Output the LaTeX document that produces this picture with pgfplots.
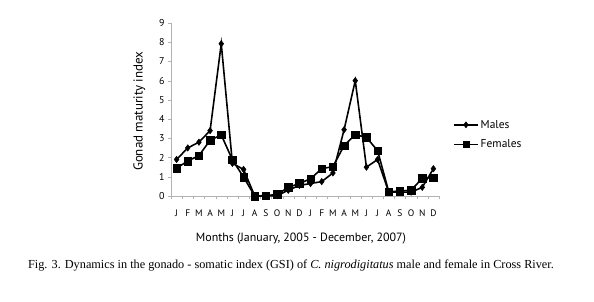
\documentclass[border=0pt]{standalone}
\usepackage{fontspec}
\setmainfont{Liberation Serif}
\newfontfamily\myriad{PT Sans}
\usepackage{pgfplots}
\pgfplotsset{compat=1.18}
\begin{document}
\begin{tikzpicture}[x=1bp,y=1bp]
\path[use as bounding box] (0,0) rectangle (594,301);
\begin{axis}[
  at={(171bp,105bp)}, anchor=south west,
  scale only axis, width=268bp, height=173bp,
  xmin=0.5, xmax=24.5, ymin=0, ymax=9,
  axis x line*=bottom, axis y line*=left,
  axis line style={gray!60, -},
  xtick={1,...,24},
  xticklabels={J,F,M,A,M,J,J,A,S,O,N,D,J,F,M,A,M,J,J,A,S,O,N,D},
  minor xtick={0.5,1.5,...,24.5},
  major x tick style={draw=none},
  minor tick length=3bp,
  major tick length=3bp,
  tick align=outside,
  tick style={gray!60},
  ytick={0,...,9},
  /pgf/number format/assume math mode=true,
  yticklabel style={font=\myriad\fontsize{10}{11}\selectfont},
  xticklabel style={font=\myriad\fontsize{9.5}{10}\selectfont, yshift=-7bp},
  ylabel={Gonad maturity index},
  every axis y label/.style={at={(axis description cs:-0.118,0.49)}, rotate=90, anchor=center,
     font=\myriad\fontsize{13}{15}\selectfont},
  xlabel={Months (January, 2005 - December, 2007)},
  every axis x label/.style={at={(axis description cs:0.485,-0.245)}, anchor=center,
     font=\myriad\fontsize{12}{14}\selectfont},
  legend style={at={(1.052,0.355)}, anchor=west, draw=none, fill=none,
    font=\myriad\fontsize{11.5}{13}\selectfont, row sep=6bp, inner sep=0pt},
  legend cell align=left,
  legend image code/.code={\draw[mark repeat=2,mark phase=2] plot coordinates {(0bp,0bp) (12bp,0bp) (24bp,0bp)};},
  legend image post style={mark size=3bp},
  clip=false,
]
\addplot[black, line width=1.6pt, mark=diamond*, mark size=3.2bp, mark options={solid, line width=0.5pt}] coordinates {
(1,1.9)(2,2.5)(3,2.8)(4,3.4)(5,7.92)(6,1.7)(7,1.38)(8,0.0)(9,0.0)(10,0.02)(11,0.3)(12,0.55)
(13,0.65)(14,0.75)(15,1.2)(16,3.45)(17,6.0)(18,1.5)(19,1.9)(20,0.2)(21,0.2)(22,0.2)(23,0.45)(24,1.42)};
\addlegendentry{Males}
\addplot[black, line width=1.6pt, mark=square*, mark size=3.8bp, mark options={solid, line width=0.5pt}] coordinates {
(1,1.45)(2,1.82)(3,2.1)(4,2.9)(5,3.18)(6,1.88)(7,0.98)(8,0.0)(9,0.02)(10,0.08)(11,0.45)(12,0.65)
(13,0.9)(14,1.42)(15,1.53)(16,2.62)(17,3.19)(18,3.05)(19,2.36)(20,0.22)(21,0.26)(22,0.3)(23,0.92)(24,0.96)};
\addlegendentry{Females}
\end{axis}
\node[font=\fontsize{12.3}{14}\selectfont] at (291,35) {Fig. 3. Dynamics in the gonado - somatic index (GSI) of \textit{C. nigrodigitatus} male and female in Cross River.};
\end{tikzpicture}
\end{document}
